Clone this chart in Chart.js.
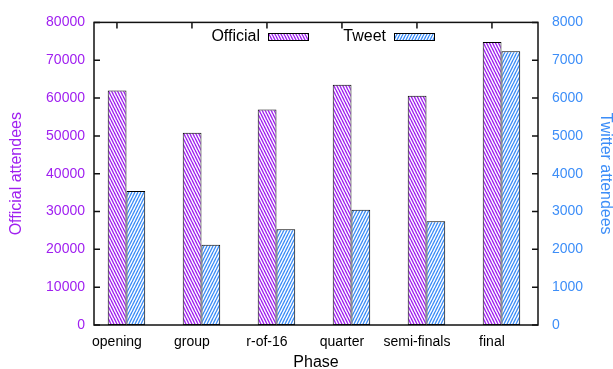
<!DOCTYPE html>
<html>
<head>
<meta charset="utf-8">
<script src="https://cdn.jsdelivr.net/npm/chart.js@4.4.1/dist/chart.umd.min.js"></script>
<style>
  html, body { margin: 0; padding: 0; background: #fff; }
  #wrap { width: 613px; height: 369px; }
</style>
</head>
<body>
<div id="wrap"><canvas id="myCanvas" width="613" height="369"></canvas></div>
<script>
// DATA
let phases = ['opening', 'group', 'r-of-16', 'quarter', 'semi-finals', 'final'];
let officialAttendees = [62000, 50800, 57000, 63500, 60600, 74800];
let tweetAttendees = [3540, 2120, 2530, 3050, 2740, 7240];
let leftTicks = [0, 10000, 20000, 30000, 40000, 50000, 60000, 70000, 80000];
let rightTicks = [0, 1000, 2000, 3000, 4000, 5000, 6000, 7000, 8000];

let purple = '#a020f0';
let blue = '#3d8ef8';
let labelShift = -0.127; // gnuplot puts the phase label a bit left of the bar pair

// hatch pattern, dir 1 = "\\\\", dir -1 = "////"
function makeHatch(color, dir) {
    let c = document.createElement('canvas');
    c.width = 3; c.height = 6;
    let g = c.getContext('2d');
    g.fillStyle = '#fff';
    g.fillRect(0, 0, 3, 6);
    g.strokeStyle = color;
    g.lineWidth = 1.4;
    for (let k = -1; k <= 1; k++) {
        g.beginPath();
        if (dir > 0) {
            g.moveTo(k * 3, 0); g.lineTo(k * 3 + 3, 6);
        } else {
            g.moveTo(k * 3 + 3, 0); g.lineTo(k * 3, 6);
        }
        g.stroke();
    }
    return g.createPattern(c, 'repeat');
}
let ctx0 = document.getElementById('myCanvas').getContext('2d');
let officialFill = makeHatch(purple, 1);
let tweetFill = makeHatch(blue, -1);

// inward tick marks (behind the bars) + frame, like gnuplot
let framePlugin = {
    id: 'frame',
    beforeDatasetsDraw(chart) {
        let ctx = chart.ctx, ca = chart.chartArea;
        let sx = chart.scales.x, sy = chart.scales.y, sy2 = chart.scales.y2;
        ctx.save();
        ctx.strokeStyle = '#111';
        ctx.lineWidth = 1.5;
        ctx.beginPath();
        leftTicks.forEach(v => {
            let p = sy.getPixelForValue(v);
            ctx.moveTo(ca.left, p); ctx.lineTo(ca.left + 6, p);
        });
        rightTicks.forEach(v => {
            let p = sy2.getPixelForValue(v);
            ctx.moveTo(ca.right, p); ctx.lineTo(ca.right - 6, p);
        });
        phases.forEach((ph, i) => {
            let p = sx.getPixelForValue(i + labelShift);
            ctx.moveTo(p, ca.bottom); ctx.lineTo(p, ca.bottom - 6);
            ctx.moveTo(p, ca.top); ctx.lineTo(p, ca.top + 6);
        });
        ctx.stroke();
        ctx.restore();
    },
    afterDraw(chart) {
        let ctx = chart.ctx, ca = chart.chartArea;
        ctx.save();
        ctx.strokeStyle = '#111';
        ctx.lineWidth = 1.5;
        ctx.strokeRect(ca.left, ca.top, ca.right - ca.left, ca.bottom - ca.top);
        ctx.restore();
    }
};

// legend: text first then swatch
let keyPlugin = {
    id: 'key',
    afterDraw(chart) {
        let ctx = chart.ctx, ca = chart.chartArea;
        ctx.save();
        ctx.font = '16px "Liberation Sans", Arial, sans-serif';
        ctx.textAlign = 'right';
        ctx.textBaseline = 'middle';
        chart.data.datasets.forEach((ds, i) => {
            let sxLeft = ca.left + 174 + i * 126;
            let y = 37;
            ctx.fillStyle = '#000';
            ctx.fillText(ds.label, sxLeft - 8, y);
            ctx.fillStyle = ds.backgroundColor;
            ctx.fillRect(sxLeft, y - 3.5, 40, 7);
            ctx.strokeStyle = '#000';
            ctx.lineWidth = 1;
            ctx.strokeRect(sxLeft + 0.5, y - 3.5, 40, 7);
        });
        ctx.restore();
    }
};

let tickFont = { family: '"Liberation Sans", Arial, sans-serif', size: 14 };
let titleFont = { family: '"Liberation Sans", Arial, sans-serif', size: 16 };

let data = {
    datasets: [{
        label: 'Official',
        data: officialAttendees.map((v, i) => ({ x: i, y: v })),
        backgroundColor: officialFill,
        borderColor: '#000',
        borderWidth: 1,
        borderSkipped: false,
        yAxisID: 'y'
    }, {
        label: 'Tweet',
        data: tweetAttendees.map((v, i) => ({ x: i, y: v })),
        backgroundColor: tweetFill,
        borderColor: '#000',
        borderWidth: 1,
        borderSkipped: false,
        yAxisID: 'y2'
    }]
};

let options = {
    responsive: false,
    animation: false,
    layout: { padding: { top: 18 } },
    datasets: { bar: { categoryPercentage: 0.5, barPercentage: 1.0, grouped: true } },
    plugins: { legend: { display: false }, tooltip: { enabled: false } },
    scales: {
        x: {
            type: 'linear',
            offset: false,
            min: -0.433,
            max: 5.487,
            grid: { display: false, drawTicks: false, offset: false },
            border: { display: false },
            afterBuildTicks: axis => { axis.ticks = phases.map((p, i) => ({ value: i + labelShift })); },
            afterFit: axis => { axis.height = 44; },
            ticks: {
                color: '#000', font: tickFont, padding: 9, maxRotation: 0, autoSkip: false,
                callback: (val, idx) => phases[idx]
            },
            title: { display: true, text: 'Phase', color: '#000', font: titleFont, padding: { top: 4, bottom: -3 } }
        },
        y: {
            position: 'left',
            min: 0, max: 80000,
            grid: { display: false, drawTicks: false },
            border: { display: false },
            afterBuildTicks: axis => { axis.ticks = leftTicks.map(v => ({ value: v })); },
            afterFit: axis => { axis.width = 94; },
            ticks: { color: purple, font: tickFont, padding: 9, callback: v => String(v) },
            title: { display: true, text: 'Official attendees', color: purple, font: titleFont, padding: { top: 7, bottom: 0 } }
        },
        y2: {
            position: 'right',
            min: 0, max: 8000,
            grid: { display: false, drawTicks: false },
            border: { display: false },
            afterBuildTicks: axis => { axis.ticks = rightTicks.map(v => ({ value: v })); },
            afterFit: axis => { axis.width = 75; },
            ticks: { color: blue, font: tickFont, padding: 14, callback: v => String(v) },
            title: { display: true, text: 'Twitter attendees', color: blue, font: titleFont, padding: { top: -2, bottom: 0 } }
        }
    }
};

let myBarChart = new Chart(ctx0, {
    type: 'bar',
    data: data,
    options: options,
    plugins: [framePlugin, keyPlugin]
});
</script>
</body>
</html>
